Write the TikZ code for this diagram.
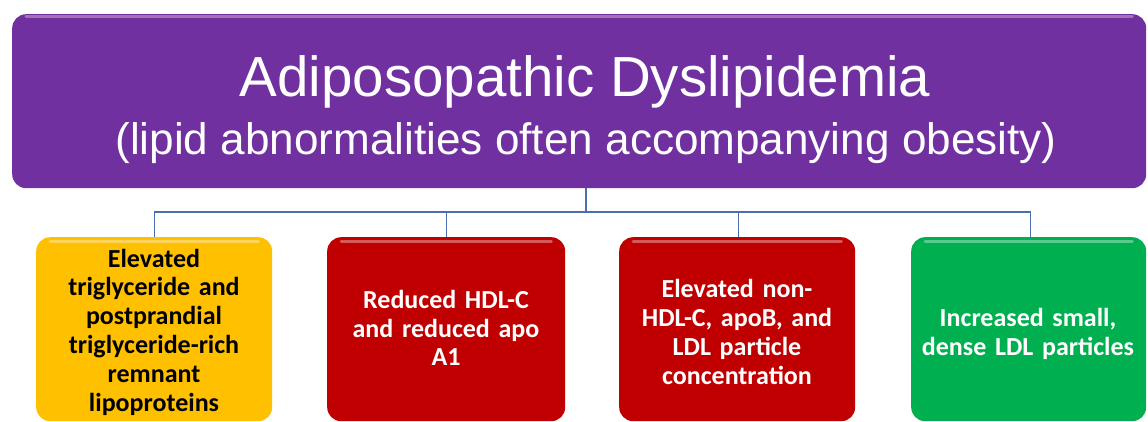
\documentclass[tikz,border=0pt]{standalone}
\usepackage{fontspec}
\setmainfont{Liberation Sans}
\newfontfamily\boxfont[WordSpace=0.7]{Carlito}
\definecolor{cpurple}{HTML}{7030A0}
\definecolor{cyellow}{HTML}{FFC000}
\definecolor{cred}{HTML}{C00000}
\definecolor{cgreen}{HTML}{00B050}
\definecolor{cline}{HTML}{4A6FB0}
\tikzset{
  card/.style={rounded corners=14pt, inner sep=0pt, anchor=north west},
  hl/.style={line width=3pt, line cap=round, white, opacity=0.35},
  conn/.style={draw=cline, line width=1.4pt},
  boxtext/.style={font=\boxfont\bfseries\fontsize{26}{28.8}\selectfont, align=center, text width=230pt},
}
\begin{document}
\begin{tikzpicture}[x=1pt,y=-1pt]
\useasboundingbox (0,0) rectangle (1148,422);
\node[card, fill=cpurple, minimum width=1134pt, minimum height=174pt] (top) at (12,14) {};
\draw[hl, opacity=0.6, violet!40] ([xshift=14pt,yshift=-3pt]top.north west) -- ([xshift=-14pt,yshift=-3pt]top.north east);
\node[anchor=base, text=white, font=\fontsize{56.5}{60}\selectfont] (t1) at (585,97) {Adiposopathic Dyslipidemia};
\node[anchor=base, text=white, font=\fontsize{44.1}{46}\selectfont] (t2) at (586,155) {(lipid abnormalities often accompanying obesity)};

\node[card, fill=cyellow, minimum width=236pt, minimum height=184pt] (b1) at (36,237) {};
\node[card, fill=cred, minimum width=238pt, minimum height=184pt] (b2) at (327,237) {};
\node[card, fill=cred, minimum width=236pt, minimum height=184pt] (b3) at (619,237) {};
\node[card, fill=cgreen, minimum width=235pt, minimum height=184pt] (b4) at (911,237) {};
\foreach \b in {b1,b2,b3,b4}{
  \draw[hl] ([xshift=14pt,yshift=-4pt]\b.north west) -- ([xshift=-14pt,yshift=-4pt]\b.north east);
}

\node[boxtext, text=black] (l1) at (154,332) {Elevated\\triglyceride and\\postprandial\\triglyceride-rich\\remnant\\lipoproteins};
\node[boxtext, text=white] (l2) at (446,328) {Reduced HDL-C\\and reduced apo\\A1};
\node[boxtext, text=white] (l3) at (737,332) {Elevated non-\\HDL-C, apoB, and\\LDL particle\\concentration};
\node[boxtext, text=white] (l4) at (1028,334) {Increased small,\\dense LDL particles};

\coordinate (hub) at (586,212);
\draw[conn] (hub |- top.south) -- (hub);
\draw[conn] (hub) -| (b1.north);
\draw[conn] (hub) -| (b2.north);
\draw[conn] (hub) -| ([xshift=1pt]b3.north);
\draw[conn] (hub) -| ([xshift=2pt]b4.north);
\end{tikzpicture}
\end{document}
